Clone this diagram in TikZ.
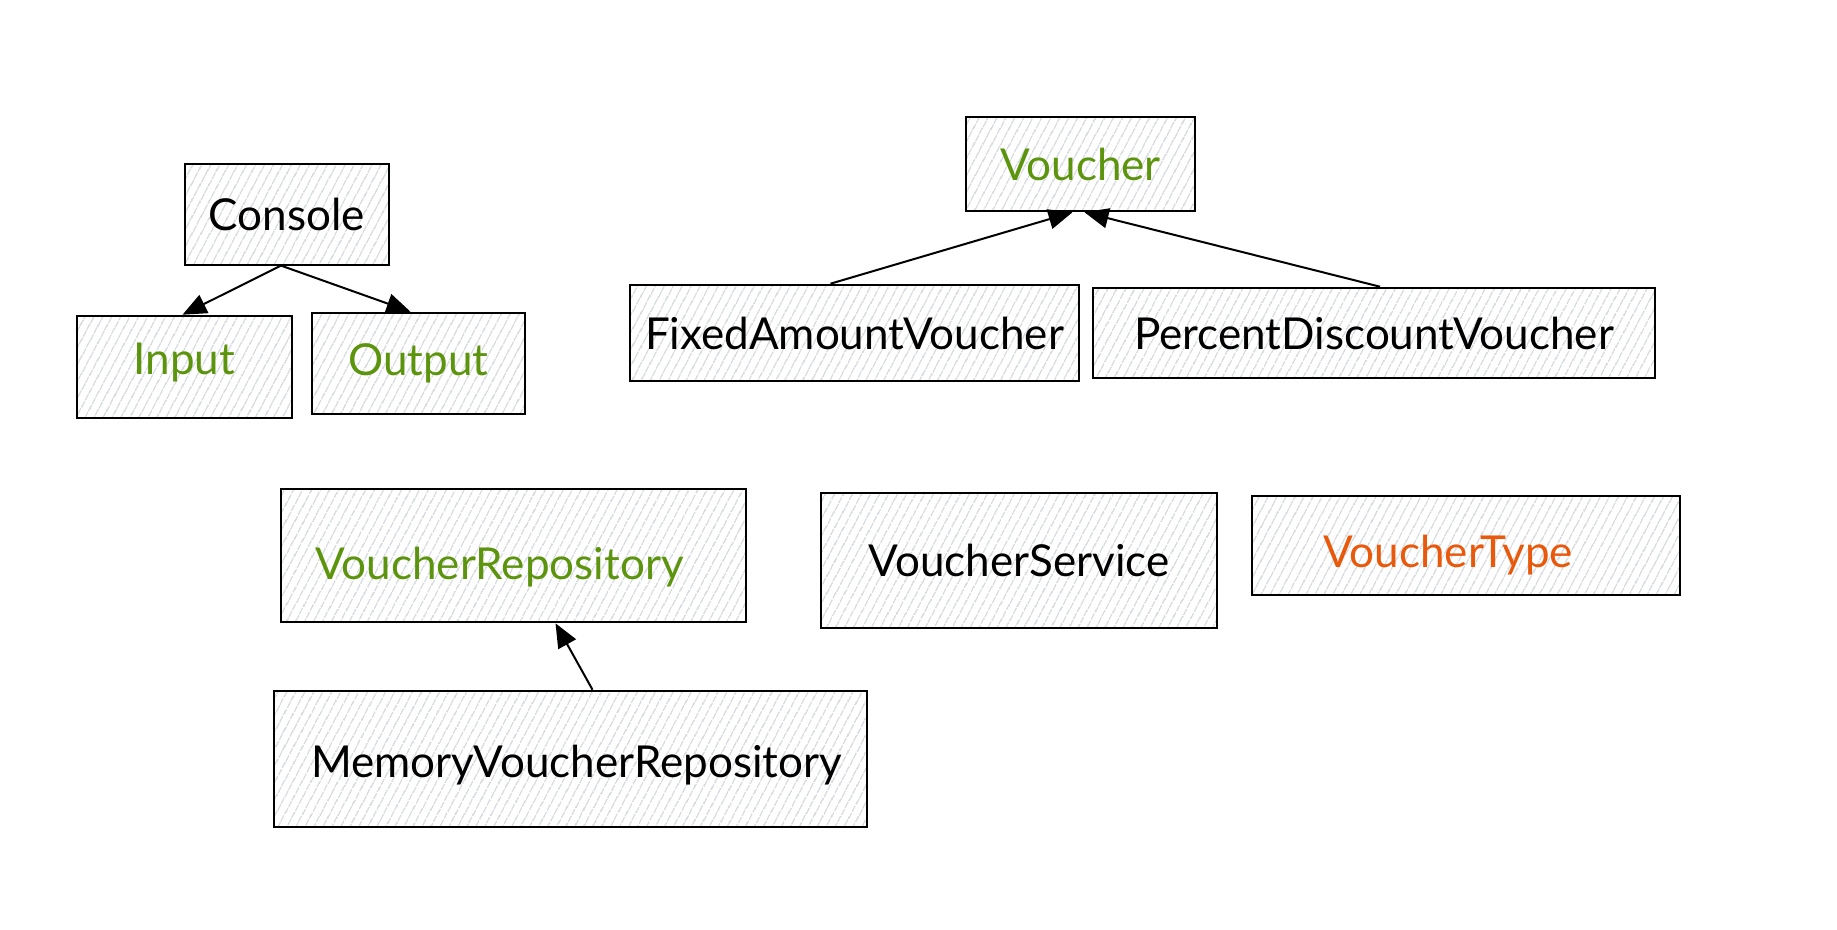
\documentclass[tikz,border=0pt]{standalone}
\usepackage{fontspec}
\setmainfont{Lato}
\usetikzlibrary{arrows.meta,patterns.meta}
\definecolor{lgreen}{HTML}{5C940D}
\definecolor{xorange}{HTML}{E8590C}
\definecolor{hatch}{HTML}{C4CAD0}
\newcommand{\shiftv}[2]{\raisebox{#1}[\height][\depth]{#2}}
\tikzset{
  box/.style={draw=black, line width=1.3pt, inner sep=0pt,
    pattern={Lines[angle=62,distance=4pt,line width=0.6pt]}, pattern color=hatch,
    font=\fontsize{22pt}{26pt}\selectfont},
  conn/.style={draw=black, line width=1pt, -{Triangle[length=12pt,width=10pt]}}
}
\begin{document}
\begin{tikzpicture}[x=0.5pt,y=-0.5pt]
\useasboundingbox (0,0) rectangle (1837,930);
\node[box, minimum width=102pt, minimum height=50.5pt] (console) at (287,214.5) {Console};
\node[box, minimum width=107.5pt, minimum height=51pt, text=lgreen] (input) at (184.5,367) {\shiftv{2pt}{Input}};
\node[box, minimum width=106.5pt, minimum height=50.5pt, text=lgreen] (output) at (418.5,363.5) {Output};
\node[box, minimum width=114.5pt, minimum height=47pt, text=lgreen] (voucher) at (1080.5,164) {Voucher};
\node[box, minimum width=224.5pt, minimum height=48pt] (fixed) at (854.5,333) {FixedAmountVoucher};
\node[box, minimum width=281pt, minimum height=45pt] (percent) at (1374,333) {PercentDiscountVoucher};
\node[box, minimum width=232.5pt, minimum height=66.5pt, text=lgreen] (repo) at (513.5,555.5) {\hspace*{-14pt}\shiftv{-6pt}{VoucherRepository}};
\node[box, minimum width=198pt, minimum height=67.5pt] (service) at (1019,560.5) {VoucherService};
\node[box, minimum width=214pt, minimum height=49.5pt, text=xorange] (vtype) at (1466,545.5) {\hspace*{-18pt}\shiftv{-5pt}{VoucherType}};
\node[box, minimum width=296.5pt, minimum height=68pt] (memory) at (570.5,759) {\shiftv{-3pt}{MemoryVoucherRepository}\hspace*{-6pt}};
\draw[conn] ([xshift=-3pt]console.south) -- ([xshift=-1pt]input.north);
\draw[conn] ([xshift=-3pt]console.south) -- ([xshift=-4pt]output.north);
\draw[conn] ([xshift=-12pt]fixed.north) -- ([xshift=-4pt]voucher.south);
\draw[conn] ([xshift=3pt]percent.north) -- ([xshift=2pt]voucher.south);
\draw[conn] ([xshift=11pt]memory.north) -- ([xshift=21pt]repo.south);
\end{tikzpicture}
\end{document}
